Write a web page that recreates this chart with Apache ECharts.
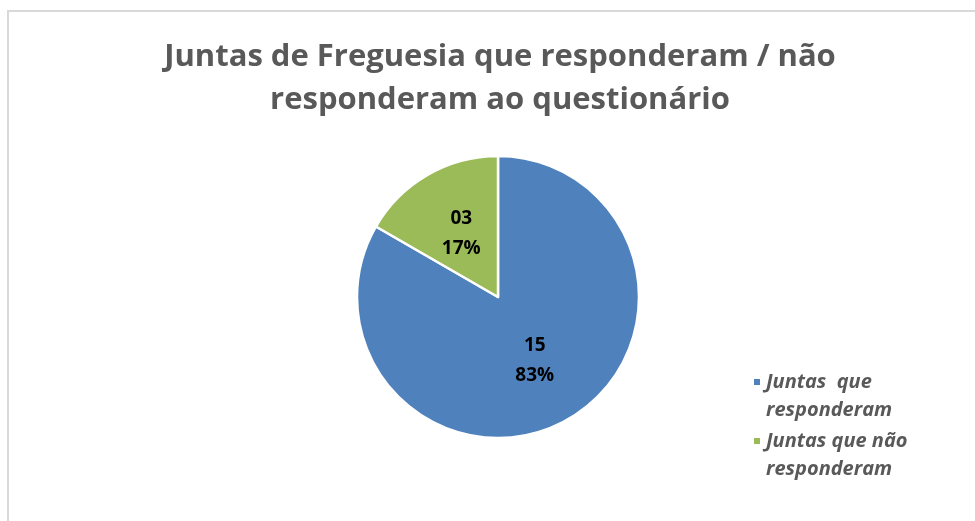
<!DOCTYPE html>
<html>
<head>
<meta charset="utf-8">
<script src="https://cdn.jsdelivr.net/npm/echarts@6/dist/echarts.min.js"></script>
<style>html,body{margin:0;padding:0;background:#fff}#c{width:975px;height:521px}</style>
</head>
<body>
<div id="c"></div>
<script>
const titleLines = ['Juntas de Freguesia que responderam / não', 'responderam ao questionário'];
const categories = ['Juntas  que responderam', 'Juntas que não responderam'];
const legendLabels = ['Juntas  que\nresponderam', 'Juntas que não\nresponderam'];
const valueLabels = ['15', '03'];
const values = [15, 3];
const colors = ['#4F81BD', '#9BBB59'];

const chart = echarts.init(document.getElementById('c'));
const data = categories.map((name, i) => ({ name, value: values[i], itemStyle: { color: colors[i] } }));
chart.setOption({
  animation: false,
  backgroundColor: '#fff',
  graphic: [{
    type: 'rect', z: -1, silent: true,
    shape: { x: 8, y: 11, width: 1100, height: 700 },
    style: { fill: null, stroke: '#d9d9d9', lineWidth: 2 }
  }],
  title: {
    text: titleLines.join('\n'),
    left: 500,
    textAlign: 'center',
    top: 36,
    padding: 0,
    textStyle: { fontFamily: 'Open Sans', fontWeight: 'bold', fontSize: 31, color: '#595959', lineHeight: 43 }
  },
  legend: {
    orient: 'vertical',
    left: 752,
    top: 340,
    height: 200,
    padding: 0,
    itemWidth: 8,
    itemHeight: 8,
    itemGap: -25,
    icon: 'rect',
    formatter: name => '\n' + legendLabels[categories.indexOf(name)],
    textStyle: { fontFamily: 'Open Sans', fontWeight: 'bold', fontStyle: 'italic', fontSize: 20, color: '#595959', lineHeight: 28 },
    data: categories
  },
  series: [{
    type: 'pie',
    center: [498, 297],
    radius: 141,
    startAngle: 90,
    clockwise: true,
    itemStyle: { borderColor: '#fff', borderWidth: 2.5 },
    label: {
      position: 'inside',
      formatter: p => valueLabels[p.dataIndex] + '\n' + Math.round(p.percent) + '%',
      fontFamily: 'Open Sans', fontWeight: 'bold', fontSize: 19, color: '#000', lineHeight: 30
    },
    labelLine: { show: false },
    data: data
  }]
});
</script>
</body>
</html>
